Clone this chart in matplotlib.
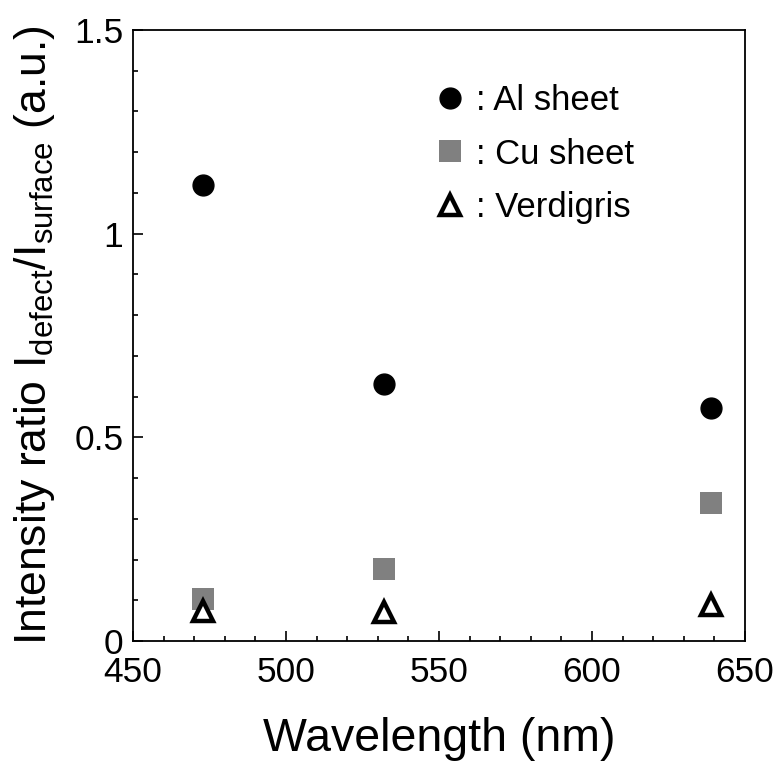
import numpy as np
import matplotlib
matplotlib.use("Agg")
from matplotlib import pyplot as plt
from matplotlib.ticker import MultipleLocator

plt.rcParams['font.family'] = ['Liberation Sans', 'DejaVu Sans']
plt.rcParams['mathtext.fontset'] = 'custom'
plt.rcParams['mathtext.rm'] = 'Liberation Sans'
plt.rcParams['mathtext.it'] = 'Liberation Sans'

# laser wavelengths (nm)
wavelength = [473, 532, 639]
# I_defect / I_surface for each sample
al_sheet = [1.12, 0.63, 0.573]
cu_sheet = [0.103, 0.177, 0.339]
verdigris = [0.074, 0.071, 0.088]

fig = plt.figure(figsize=(7.8, 7.69), dpi=100)
ax = fig.add_axes([0.1705, 0.1664, 0.7846, 0.7946])

ax.plot(wavelength, cu_sheet, 's', color='#808080', markersize=15.5,
        markeredgewidth=0, label=': Cu sheet', zorder=2)
ax.plot(wavelength, verdigris, '^', color='white', markeredgecolor='black',
        markersize=15, markeredgewidth=3.2, label=': Verdigris', zorder=3)
ax.plot(wavelength, al_sheet, 'o', color='black', markersize=15,
        label=': Al sheet', zorder=3)

ax.set_xlim(450, 650)
ax.set_ylim(0, 1.5)
ax.xaxis.set_major_locator(MultipleLocator(50))
ax.xaxis.set_minor_locator(MultipleLocator(10))
ax.yaxis.set_major_locator(MultipleLocator(0.5))
ax.yaxis.set_minor_locator(MultipleLocator(0.1))
ax.set_yticks([0, 0.5, 1, 1.5])
ax.set_yticklabels(['0', '0.5', '1', '1.5'])

ax.tick_params(which='both', direction='in', top=False, right=False,
               width=1.2, labelsize=25.5)
ax.tick_params(which='major', length=7)
ax.tick_params(which='minor', length=3.8)
ax.tick_params(axis='x', pad=11)
ax.tick_params(axis='y', pad=7)
for s in ax.spines.values():
    s.set_linewidth(1.3)

ax.set_xlabel('Wavelength (nm)', fontsize=33.5, labelpad=20)
ax.set_ylabel(r'Intensity ratio I$_{\mathrm{defect}}$/I$_{\mathrm{surface}}$ (a.u.)',
              fontsize=32, labelpad=12)

h, l = ax.get_legend_handles_labels()
order = [2, 0, 1]
ax.legend([h[i] for i in order], [l[i] for i in order], loc='upper left',
          bbox_to_anchor=(0.493, 0.912), frameon=False, fontsize=25,
          handlelength=0.9, handletextpad=0.3, labelspacing=0.6,
          borderaxespad=0.0, borderpad=0.0)

fig.savefig('out.png', dpi=100)
